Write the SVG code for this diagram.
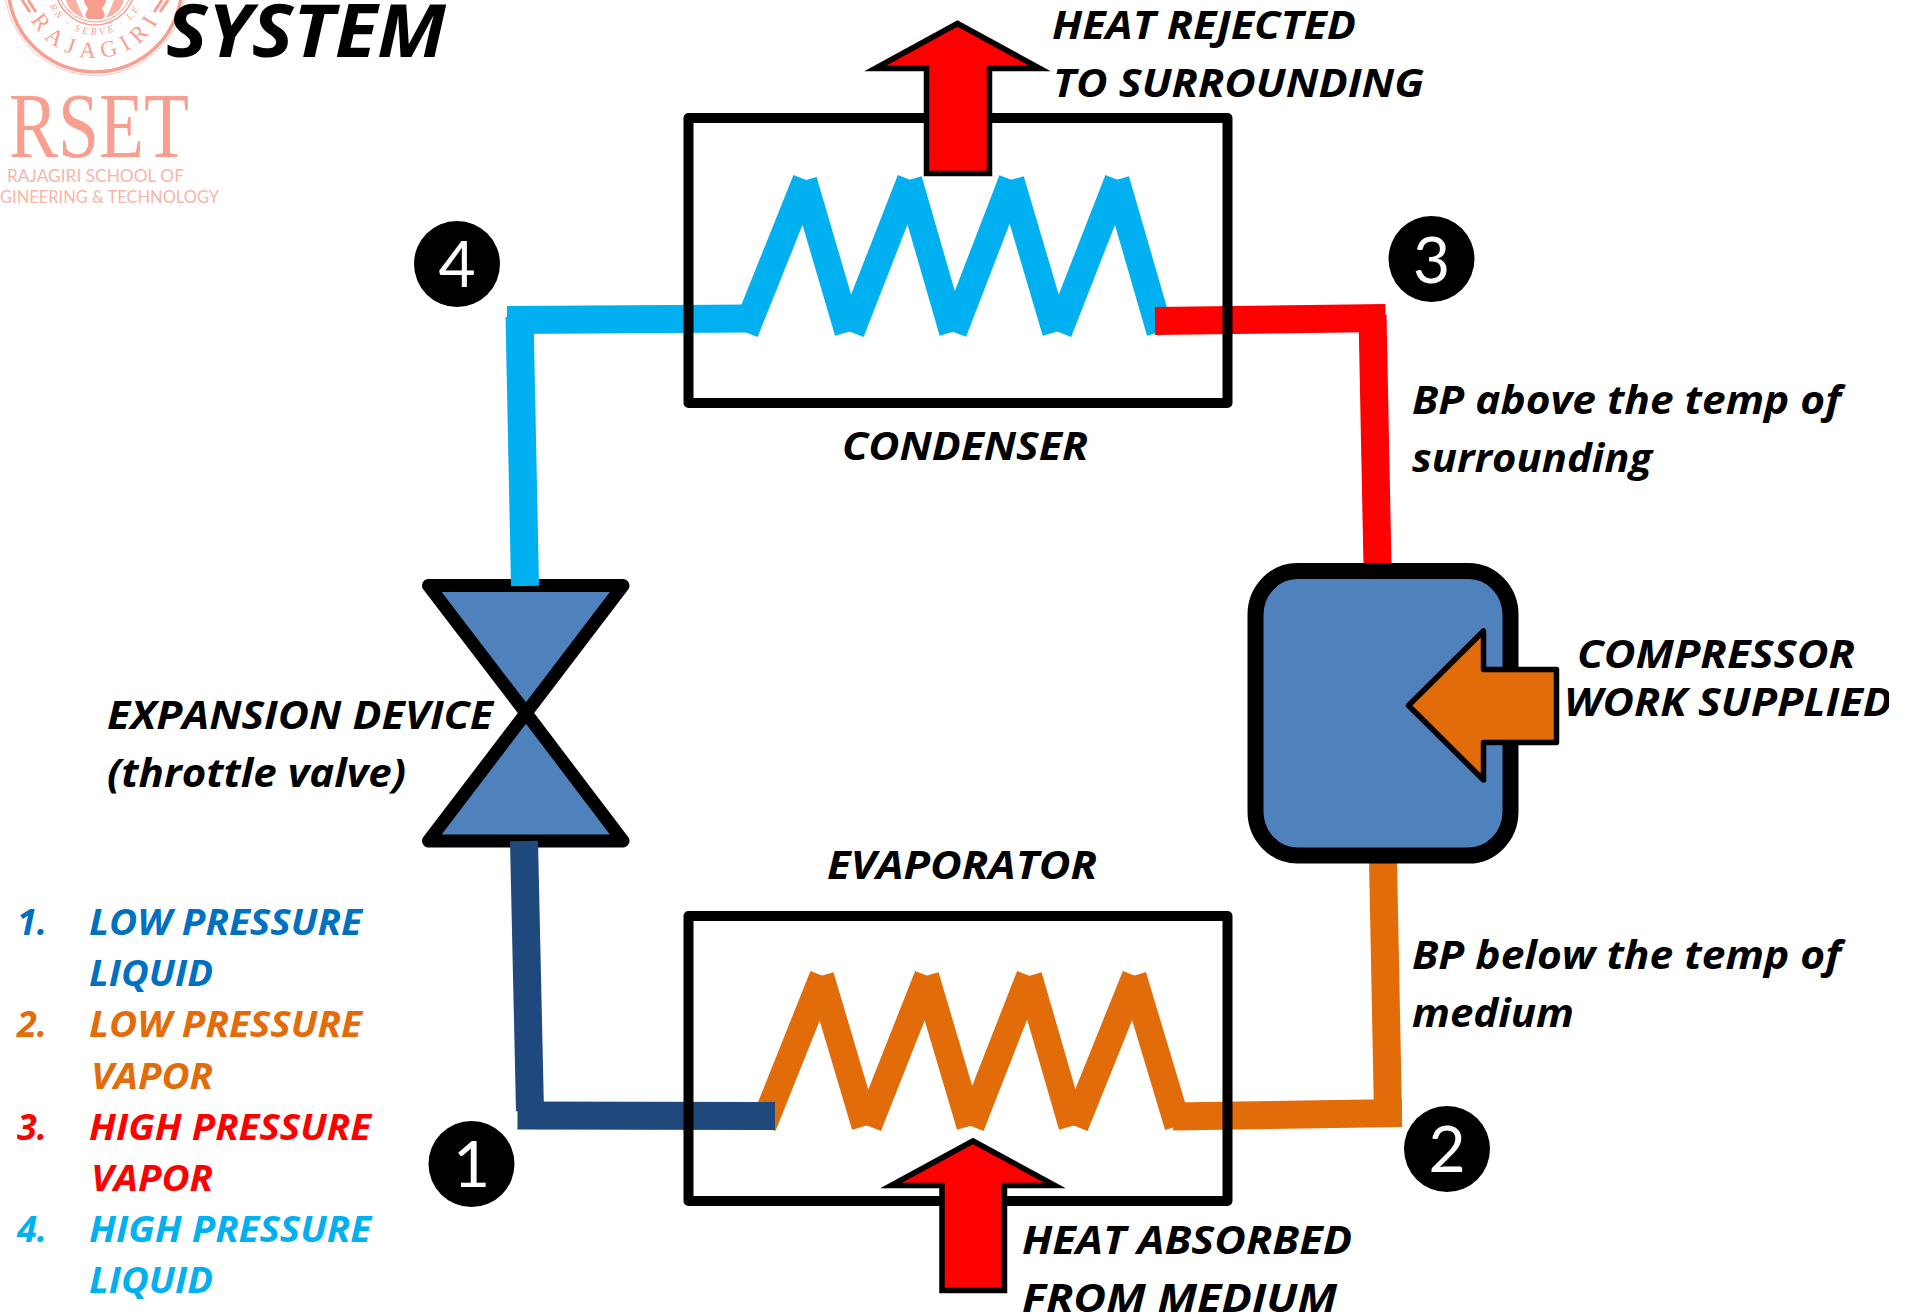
<svg xmlns="http://www.w3.org/2000/svg" width="1912" height="1314" viewBox="0 0 1912 1314">
<style>
text{font-family:"Open Sans","Lato","Liberation Sans",sans-serif}
.l{font-weight:700;font-style:italic;font-size:40px;fill:#000}
.s{font-weight:700;font-style:italic;font-size:36px}
.d{font-size:64px;fill:#fff;text-anchor:middle;font-weight:400;font-family:"Lato","Open Sans",sans-serif}
.box{fill:none;stroke:#000;stroke-width:10;stroke-linejoin:round}
.vt{fill:#4F81BD;stroke:#000;stroke-width:13;stroke-linejoin:round}
.pipe{fill:none;stroke-width:28}
.c1{stroke:#00B0F0;fill:none;stroke-width:27}
.c2{stroke:#E36C0A;fill:none;stroke-width:27}
.up{fill:#F00;stroke:#000;stroke-width:5.5;stroke-miterlimit:10}
.lg{fill:#FA9F90}
.lr{fill:none;stroke:#FA9F90}
</style>
<defs>
<path id="ra" d="M22 -15A73 73 0 0 0 168 -15"/>
<path id="rb" d="M45 -15A50 50 0 0 0 145 -15"/>
<clipPath id="edge"><rect x="0" y="0" width="1889" height="1314"/></clipPath>
</defs>
<g id="logo">
<circle class="lr" cx="95" cy="-15" r="90.5" stroke-width="1" opacity=".6"/>
<circle class="lr" cx="95" cy="-15" r="87" stroke-width="3.5"/>
<circle class="lr" cx="95" cy="-15" r="40" stroke-width="1.5"/>
<circle class="lr" cx="95" cy="-15" r="37" stroke-width="1"/>
<path class="lr" d="M28 0L36 12M162 0L154 12M22 0L30 12M168 0L160 12" stroke-width="3"/>
<path class="lg" d="M84 0C84 5 88 7 88 9C85 13 84 17 88 19L102 19C106 17 105 13 102 9C102 7 106 5 106 0Z"/>
<path class="lg" d="M66 0C68 8 74 15 84 18L80 10L76 0ZM124 0C122 8 116 15 106 18L110 10L114 0Z" opacity=".8"/>
<text font-size="23" letter-spacing="7" class="lg" style="font-family:'Liberation Serif',serif" text-anchor="middle"><textPath href="#ra" startOffset="51%">RAJAGIRI</textPath></text>
<text font-size="10" class="lg" letter-spacing="3" style="font-family:'Liberation Serif',serif;font-style:italic" text-anchor="middle"><textPath href="#rb" startOffset="50%">RN · SERVE · LE</textPath></text>
<text x="9" y="157" font-size="94" class="lg" textLength="180" lengthAdjust="spacingAndGlyphs" style="font-family:'Liberation Serif',serif">RSET</text>
<text x="7" y="182" font-size="17" fill="#F9B5A8" textLength="177" lengthAdjust="spacingAndGlyphs" style="font-family:Lato,sans-serif">RAJAGIRI SCHOOL OF</text>
<text x="0" y="203" font-size="17" fill="#F9B5A8" textLength="219" lengthAdjust="spacingAndGlyphs" style="font-family:Lato,sans-serif">GINEERING &amp; TECHNOLOGY</text>
</g>
<g id="expansion-device">
<polygon class="vt" points="428.5,585.5 623,585.5 526,713"/>
<polygon class="vt" points="428.5,841 623,841 526,713"/>
</g>
<g id="condenser-coil" class="c1">
<path d="M745 332L806 180"/><path d="M803.6 180.7L848 332"/><path d="M851 332L910.4 180"/><path d="M908.7 180L952.6 332"/><path d="M953.5 332L1012 180"/><path d="M1010.8 180L1055.7 332"/><path d="M1058.6 332L1118 180"/><path d="M1116 180L1160 332"/>
</g>
<g id="evaporator-coil" class="c2">
<path d="M763 1126L823 976"/><path d="M820.5 976L865 1126"/><path d="M868.4 1126L927.7 976"/><path d="M925.6 976L970 1126"/><path d="M971 1126L1029.7 976"/><path d="M1028.6 976L1072 1126"/><path d="M1075 1126L1135.4 976"/><path d="M1133 976L1178 1126"/>
</g>
<g id="connectors" class="pipe">
<path stroke="#1F497D" d="M524 841L530 1111"/>
<path stroke="#1F497D" d="M517.5 1115.5L775 1116"/>
<path stroke="#E36C0A" d="M1383 860L1388 1115"/>
<path stroke="#E36C0A" d="M1173 1116.5L1402 1113"/>
<path stroke="#F00" d="M1372.5 315L1377.5 566"/>
<path stroke="#F00" d="M1155 321L1385.5 318"/>
<path stroke="#00B0F0" d="M519.5 316L525 586"/>
<path stroke="#00B0F0" d="M507 320L750 318.5"/>
</g>
<g id="condenser"><rect class="box" x="688.5" y="118" width="539" height="285"/></g>
<g id="evaporator"><rect class="box" x="688.5" y="916" width="539" height="285"/></g>
<g id="compressor">
<rect x="1255.5" y="571" width="255" height="284.5" rx="42" ry="44" fill="#4F81BD" stroke="#000" stroke-width="16"/>
<polygon points="1408.5,705.5 1483.5,631 1483.5,669.5 1556.5,669.5 1556.5,742.5 1483.5,742.5 1483.5,780" fill="#E36C0A" stroke="#000" stroke-width="5.5" stroke-linejoin="round"/>
</g>
<g id="heat-out"><polygon class="up" points="957.5,23.5 1040,68.5 989.5,68.5 989.5,173.5 926.5,173.5 926.5,68.5 875,68.5"/></g>
<g id="heat-in"><polygon class="up" points="973,1141 1055,1185.5 1004.5,1185.5 1004.5,1290.5 942,1290.5 942,1185.5 891,1185.5"/></g>
<g id="badge-1"><circle cx="471.5" cy="1164" r="43"/><text class="d" x="471.5" y="1187">1</text></g>
<g id="badge-2"><circle cx="1447" cy="1149" r="43"/><text class="d" x="1447" y="1172">2</text></g>
<g id="badge-3"><circle cx="1431.5" cy="259" r="43"/><text class="d" x="1431.5" y="283">3</text></g>
<g id="badge-4"><circle cx="457" cy="264" r="43"/><text class="d" x="457" y="287">4</text></g>
<g id="labels">
<text x="166" y="57" font-size="74" font-weight="700" font-style="italic" textLength="280" lengthAdjust="spacingAndGlyphs">SYSTEM</text>
<text class="l" x="1052" y="39" textLength="304" lengthAdjust="spacingAndGlyphs">HEAT REJECTED</text>
<text class="l" x="1053" y="97" textLength="371" lengthAdjust="spacingAndGlyphs">TO SURROUNDING</text>
<text class="l" x="842" y="460" textLength="246" lengthAdjust="spacingAndGlyphs">CONDENSER</text>
<text class="l" x="1412" y="414" textLength="429" lengthAdjust="spacingAndGlyphs">BP above the temp of</text>
<text class="l" x="1412" y="472" textLength="240" lengthAdjust="spacingAndGlyphs">surrounding</text>
<text class="l" x="1577" y="668" textLength="278" lengthAdjust="spacingAndGlyphs">COMPRESSOR</text>
<g clip-path="url(#edge)"><text class="l" x="1564" y="716" textLength="328" lengthAdjust="spacingAndGlyphs">WORK SUPPLIED</text></g>
<text class="l" x="107" y="729" textLength="386" lengthAdjust="spacingAndGlyphs">EXPANSION DEVICE</text>
<text class="l" x="107" y="787" textLength="299" lengthAdjust="spacingAndGlyphs">(throttle valve)</text>
<text class="l" x="827" y="879" textLength="270" lengthAdjust="spacingAndGlyphs">EVAPORATOR</text>
<text class="l" x="1412" y="969" textLength="429" lengthAdjust="spacingAndGlyphs">BP below the temp of</text>
<text class="l" x="1412" y="1027" textLength="162" lengthAdjust="spacingAndGlyphs">medium</text>
<text class="l" x="1022" y="1254" textLength="330" lengthAdjust="spacingAndGlyphs">HEAT ABSORBED</text>
<text class="l" x="1022" y="1312" textLength="315" lengthAdjust="spacingAndGlyphs">FROM MEDIUM</text>
</g>
<g id="legend">
<g fill="#0070C0"><text class="s" x="17" y="935">1.</text><text class="s" x="89" y="935" textLength="273" lengthAdjust="spacingAndGlyphs">LOW PRESSURE</text><text class="s" x="89" y="986" textLength="124" lengthAdjust="spacingAndGlyphs">LIQUID</text></g>
<g fill="#E36C0A"><text class="s" x="17" y="1037">2.</text><text class="s" x="89" y="1037" textLength="273" lengthAdjust="spacingAndGlyphs">LOW PRESSURE</text><text class="s" x="91" y="1089" textLength="122" lengthAdjust="spacingAndGlyphs">VAPOR</text></g>
<g fill="#F00"><text class="s" x="17" y="1140">3.</text><text class="s" x="89" y="1140" textLength="282" lengthAdjust="spacingAndGlyphs">HIGH PRESSURE</text><text class="s" x="91" y="1191" textLength="122" lengthAdjust="spacingAndGlyphs">VAPOR</text></g>
<g fill="#00B0F0"><text class="s" x="17" y="1242">4.</text><text class="s" x="89" y="1242" textLength="282" lengthAdjust="spacingAndGlyphs">HIGH PRESSURE</text><text class="s" x="89" y="1293" textLength="124" lengthAdjust="spacingAndGlyphs">LIQUID</text></g>
</g>
</svg>
